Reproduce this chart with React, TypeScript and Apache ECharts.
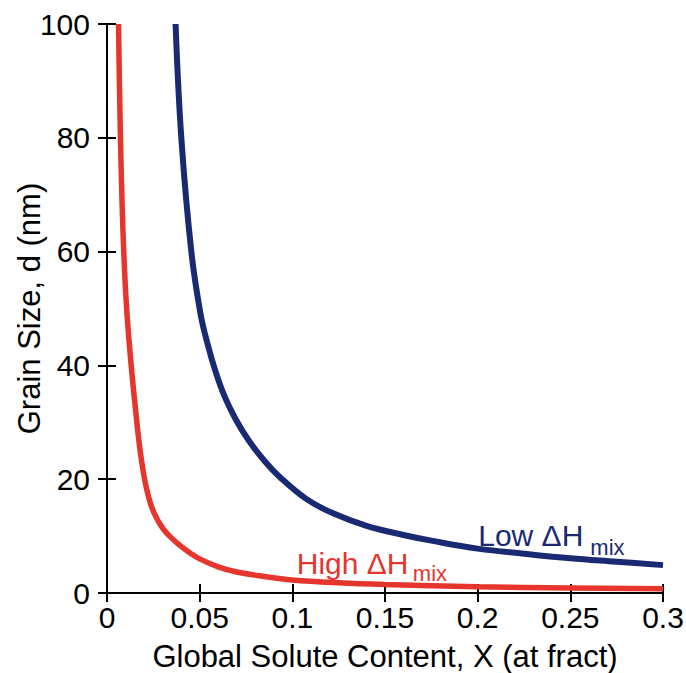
import React, { useEffect, useRef } from "react";
import * as echarts from "echarts";

// High ΔHmix curve (red)
const redX = [0.0062, 0.0068, 0.0076, 0.0088, 0.0104, 0.0125, 0.015, 0.0175, 0.02, 0.0225, 0.0255, 0.03, 0.035, 0.04, 0.045, 0.05, 0.06, 0.07, 0.085, 0.1, 0.125, 0.15, 0.2, 0.25, 0.3];
const redD = [100, 88, 75, 62, 51, 42, 33.5, 26, 20.5, 16.8, 14.0, 11.4, 9.6, 8.2, 7.0, 6.0, 4.6, 3.7, 2.9, 2.3, 1.8, 1.5, 1.1, 0.9, 0.75];
// Low ΔHmix curve (blue)
const blueX = [0.037, 0.0401, 0.0455, 0.0505, 0.0545, 0.0585, 0.0635, 0.0695, 0.0765, 0.085, 0.0932, 0.1077, 0.122, 0.14, 0.16, 0.175, 0.2, 0.225, 0.25, 0.275, 0.3];
const blueD = [100, 80, 60, 49, 43.5, 39, 34.5, 30.5, 26.8, 23.2, 20.4, 16.5, 14.0, 11.8, 10.2, 9.2, 7.8, 6.9, 6.1, 5.5, 4.9];

const xMin = 0, xMax = 0.3, xStep = 0.05;
const yMin = 0, yMax = 100, yStep = 20;

const RED = "#e6352c";
const BLUE = "#1a2a72";
const FONT = "'Liberation Sans', Arial, Helvetica, sans-serif";

// annotation anchors in data coordinates: [x, baseline y]
const lowMain: [number, number] = [0.2003, 8.6];
const lowSub: [number, number] = [0.2608, 6.8];
const highMain: [number, number] = [0.1024, 3.7];
const highSub: [number, number] = [0.165, 2.3];

export default function App() {
  const ref = useRef<HTMLDivElement>(null);
  useEffect(() => {
    if (!ref.current) return;
    const chart = echarts.init(ref.current, undefined, { renderer: "svg" });
    const axisCommon = {
      axisLine: { show: true, lineStyle: { color: "#000", width: 2 } },
      axisTick: { show: true, inside: true, length: 9, lineStyle: { color: "#000", width: 2 } },
      splitLine: { show: false },
    };
    chart.setOption({
      animation: false,
      backgroundColor: "#fff",
      grid: { left: 107, top: 24, right: 23, bottom: 80, containLabel: false, outerBoundsMode: "none" },
      xAxis: [
        {
          type: "value", min: xMin, max: xMax, interval: xStep,
          ...axisCommon,
          axisLabel: { color: "#000", fontSize: 30, fontFamily: FONT, margin: 9 },
          name: "Global Solute Content, X (at fract)",
          nameLocation: "middle", nameGap: 48, nameMoveOverlap: false,
          nameTextStyle: { color: "#000", fontSize: 31, fontFamily: FONT },
        },
        {
          type: "value", min: xMin, max: xMax, interval: xStep, position: "top",
          ...axisCommon, axisLabel: { show: false },
        },
      ],
      yAxis: [
        {
          type: "value", min: yMin, max: yMax, interval: yStep,
          ...axisCommon,
          axisLabel: { color: "#000", fontSize: 30, fontFamily: FONT, margin: 17 },
          name: "Grain Size, d (nm)",
          nameLocation: "middle", nameGap: 62, nameRotate: 90, nameMoveOverlap: false,
          nameTextStyle: { color: "#000", fontSize: 31, fontFamily: FONT },
        },
        {
          type: "value", min: yMin, max: yMax, interval: yStep, position: "right",
          ...axisCommon, axisLabel: { show: false },
        },
      ],
      series: [
        {
          type: "line", name: "High", data: redX.map((x, i) => [x, redD[i]]),
          showSymbol: false, smooth: 0.4,
          lineStyle: { color: RED, width: 5.5 }, clip: true, z: 2,
        },
        {
          type: "line", name: "Low", data: blueX.map((x, i) => [x, blueD[i]]),
          showSymbol: false, smooth: 0.4,
          lineStyle: { color: BLUE, width: 6 }, clip: true, z: 3,
        },
      ],
    });
    const px = (p: [number, number]) => chart.convertToPixel({ gridIndex: 0 }, p) as number[];
    const mk = (p: [number, number], text: string, color: string, size: number) => {
      const [x, y] = px(p);
      return {
        type: "text", x, y: y + size * 0.21,
        style: { text, fill: color, font: `${size}px ${FONT}`, textAlign: "left", textVerticalAlign: "bottom", verticalAlign: "bottom" },
        z: 10,
      };
    };
    chart.setOption({
      graphic: [
        mk(lowMain, "Low ΔH", BLUE, 30),
        mk(lowSub, "mix", BLUE, 22),
        mk(highMain, "High ΔH", RED, 30),
        mk(highSub, "mix", RED, 22),
      ],
    });
    return () => chart.dispose();
  }, []);
  return (
    <div
      ref={ref}
      style={{ position: "fixed", left: 0, top: 0, width: 686, height: 673, background: "#fff" }}
    />
  );
}
